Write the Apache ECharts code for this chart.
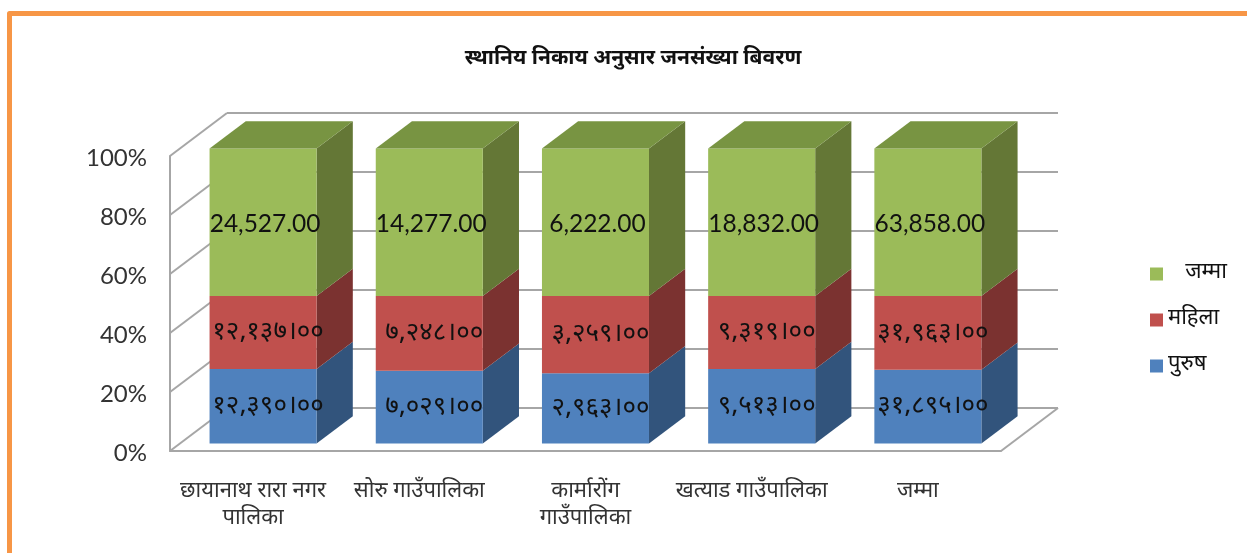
<!DOCTYPE html>
<html>
<head>
<meta charset="utf-8">
<style>
  html, body { margin: 0; padding: 0; background: #fff; }
  #chart { width: 1247px; height: 553px; }
</style>
<script src="https://cdn.jsdelivr.net/npm/echarts@6/dist/echarts.min.js"></script>
</head>
<body>
<div id="chart"></div>
<script>
const titleText = 'स्थानिय निकाय अनुसार जनसंख्या बिवरण';
const categories = ['छायानाथ रारा नगर\nपालिका', 'सोरु गाउँपालिका', 'कार्मारोंग\nगाउँपालिका', 'खत्याड गाउँपालिका', 'जम्मा'];
const purush = [12390, 7029, 2963, 9513, 31895];
const mahila = [12137, 7248, 3259, 9319, 31963];
const jamma = [24527, 14277, 6222, 18832, 63858];
const purushLabels = ['१२,३९०।००', '७,०२९।००', '२,९६३।००', '९,५१३।००', '३१,८९५।००'];
const mahilaLabels = ['१२,१३७।००', '७,२४८।००', '३,२५९।००', '९,३१९।००', '३१,९६३।००'];
const jammaLabels = ['24,527.00', '14,277.00', '6,222.00', '18,832.00', '63,858.00'];
const percentTicks = [0, 20, 40, 60, 80, 100];

const devaFont = '"Noto Sans Devanagari", "Noto Sans", "Lohit Devanagari", sans-serif';
const latinFont = 'Lato, sans-serif';
const gridColor = '#a6a6a6';

// 3D look: how far the back wall sits from the front plane, in px
const depthX = 57;
const depthY = -43;
// bars stand between these two depths (0 front, 1 back wall)
const barNear = 0.175;
const barFar = 0.81;
const barBand = 0.644;

function project(api, cat, pct, depth) {
    const p = api.coord([cat, pct]);
    return [p[0] + depthX * depth, p[1] + depthY * depth];
}

// 100% stacked: share of each layer per category
const totals = categories.map((_, i) => purush[i] + mahila[i] + jamma[i]);
function layerData(values, below) {
    return values.map((v, i) => {
        const base = below.reduce((s, arr) => s + arr[i], 0);
        return [i, base / totals[i] * 100, (base + v) / totals[i] * 100];
    });
}

function renderWall(params, api) {
    const pct = api.value(0);
    const left = api.coord([0, pct]);
    const bandW = api.size([1, 0])[0];
    const x0 = left[0] - bandW / 2;
    const x1 = x0 + bandW * categories.length;
    const y = left[1];
    const style = { stroke: gridColor, lineWidth: 2, fill: null };
    const children = [
        { type: 'line', shape: { x1: x0, y1: y, x2: x0 + depthX, y2: y + depthY }, style },
        { type: 'line', shape: { x1: x0 + depthX, y1: y + depthY, x2: x1 + depthX, y2: y + depthY }, style }
    ];
    if (pct === 0) {
        children.push({ type: 'line', shape: { x1: x1, y1: y, x2: x1 + depthX, y2: y + depthY }, style });
    }
    return { type: 'group', children };
}

function makeBarRender(front, side, top, labels, font, fontSize, labelDx) {
    return (params, api) => {
        const cat = api.value(0);
        const lo = api.value(1);
        const hi = api.value(2);
        const hw = api.size([1, 0])[0] * barBand / 2;

        const at = (dx, pct, depth) => {
            const p = project(api, cat, pct, depth);
            return [p[0] + dx, p[1]];
        };
        const poly = (points, fill) => ({ type: 'polygon', shape: { points }, style: { fill } });

        const children = [
            poly([at(hw, lo, barNear), at(hw, lo, barFar), at(hw, hi, barFar), at(hw, hi, barNear)], side),
            poly([at(-hw, lo, barNear), at(hw, lo, barNear), at(hw, hi, barNear), at(-hw, hi, barNear)], front)
        ];
        if (top) {
            children.push(poly([at(-hw, hi, barNear), at(hw, hi, barNear), at(hw, hi, barFar), at(-hw, hi, barFar)], top));
        }
        const mid = at(0, (lo + hi) / 2, barNear);
        children.push({
            type: 'text',
            z2: 10,
            style: {
                x: mid[0] + labelDx, y: mid[1] + 2,
                text: labels[params.dataIndex],
                fill: '#111',
                font: fontSize + 'px ' + font,
                align: 'center',
                verticalAlign: 'middle'
            }
        });
        return { type: 'group', children };
    };
}

const chart = echarts.init(document.getElementById('chart'), null, { renderer: 'canvas' });
chart.setOption({
    animation: false,
    backgroundColor: '#fff',
    title: {
        text: titleText,
        left: 628,
        top: 45,
        textAlign: 'center',
        textStyle: { fontFamily: devaFont, fontSize: 21, fontWeight: 'bold', color: '#111' }
    },
    // orange frame of the slide, top and left only
    graphic: [{
        type: 'polyline',
        silent: true,
        shape: { points: [[9.5, 560], [9.5, 13.5], [1250, 13.5]] },
        style: { stroke: '#f79646', lineWidth: 5, fill: null, lineJoin: 'round' }
    }],
    legend: {
        orient: 'vertical',
        left: 1145,
        top: 258,
        itemWidth: 13,
        itemHeight: 13,
        itemGap: 24,
        icon: 'rect',
        data: ['जम्मा', 'महिला', 'पुरुष'],
        formatter: n => (n === 'जम्मा' ? '   ' + n : n),
        textStyle: { fontFamily: devaFont, fontSize: 22, color: '#111' }
    },
    grid: { left: 170, width: 831, top: 156, height: 295 },
    xAxis: {
        type: 'category',
        data: categories,
        axisLine: { lineStyle: { color: gridColor, width: 2 } },
        axisTick: { show: false },
        axisLabel: { interval: 0, margin: 28, lineHeight: 27, fontFamily: devaFont, fontSize: 22, color: '#333' }
    },
    yAxis: {
        type: 'value',
        min: 0,
        max: 100,
        interval: 20,
        axisLine: { show: true, lineStyle: { color: gridColor, width: 2 } },
        axisTick: { show: false },
        splitLine: { show: false },
        axisLabel: { formatter: '{value}%', margin: 23, verticalAlign: 'top', lineHeight: 4, fontFamily: latinFont, fontSize: 24, color: '#333' }
    },
    series: [
        {
            type: 'custom',
            name: 'walls',
            silent: true,
            data: percentTicks.map(v => [v]),
            encode: { y: 0 },
            renderItem: renderWall,
            z: 1
        },
        {
            type: 'custom',
            name: 'पुरुष',
            data: layerData(purush, []),
            encode: { x: 0, y: [1, 2] },
            itemStyle: { color: '#4f81bd' },
            renderItem: makeBarRender('#4f81bd', '#32547c', null, purushLabels, devaFont, 26, 5),
            z: 2
        },
        {
            type: 'custom',
            name: 'महिला',
            data: layerData(mahila, [purush]),
            encode: { x: 0, y: [1, 2] },
            itemStyle: { color: '#c0504d' },
            renderItem: makeBarRender('#c0504d', '#7b3230', null, mahilaLabels, devaFont, 26, 5),
            z: 3
        },
        {
            type: 'custom',
            name: 'जम्मा',
            data: layerData(jamma, [purush, mahila]),
            encode: { x: 0, y: [1, 2] },
            itemStyle: { color: '#9bbb59' },
            renderItem: makeBarRender('#9bbb59', '#647736', '#789442', jammaLabels, latinFont, 24.5, 2),
            z: 4
        }
    ]
});
</script>
</body>
</html>
